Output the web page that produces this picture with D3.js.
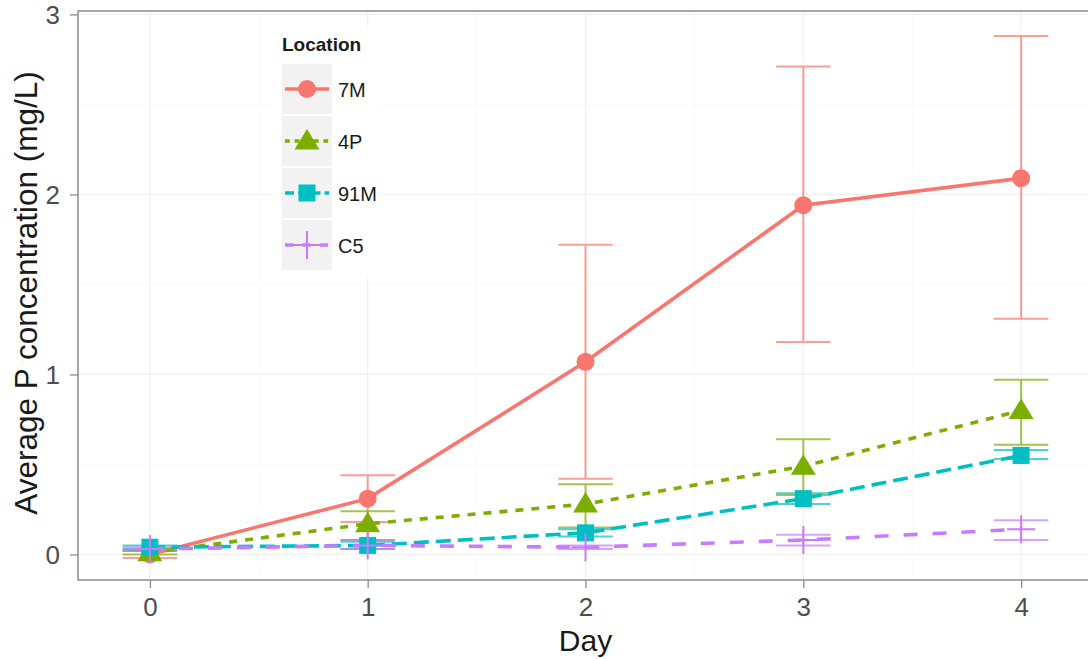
<!DOCTYPE html>
<html><head><meta charset="utf-8">
<script src="https://cdn.jsdelivr.net/npm/d3@7"></script>
<style>html,body{margin:0;padding:0;background:#fff;overflow:hidden}svg{display:block;font-family:"Liberation Sans",Arial,sans-serif}</style>
</head><body><svg id="c" width="1088" height="659"></svg>
<script>
const days = [0, 1, 2, 3, 4];
const locations = ["7M", "4P", "91M", "C5"];
const mean7M  = [0.00, 0.31, 1.07, 1.94, 2.09];
const lo7M    = [-0.02, 0.18, 0.42, 1.18, 1.31];
const hi7M    = [0.02, 0.44, 1.72, 2.71, 2.88];
const mean4P  = [0.01, 0.17, 0.28, 0.49, 0.80];
const lo4P    = [0.00, 0.08, 0.15, 0.33, 0.61];
const hi4P    = [0.02, 0.24, 0.39, 0.64, 0.97];
const mean91M = [0.04, 0.05, 0.12, 0.31, 0.55];
const lo91M   = [0.03, 0.03, 0.10, 0.28, 0.53];
const hi91M   = [0.05, 0.07, 0.14, 0.34, 0.58];
const meanC5  = [0.03, 0.05, 0.04, 0.08, 0.14];
const loC5    = [0.02, 0.03, 0.03, 0.05, 0.08];
const hiC5    = [0.04, 0.08, 0.05, 0.11, 0.19];
const yTicks = [0, 1, 2, 3];
const xTicks = [0, 1, 2, 3, 4];

const seriesMeans = [mean7M, mean4P, mean91M, meanC5];
const seriesLo = [lo7M, lo4P, lo91M, loC5];
const seriesHi = [hi7M, hi4P, hi91M, hiC5];
const colors = ["#F8766D", "#7CAE00", "#00BFC4", "#C77CFF"];
const dashes = [null, "8,8", "15,7", "14,15"];
const shapes = ["circle", "triangle", "square", "plus"];

const series = locations.map((loc, i) => ({
  loc, color: colors[i], dash: dashes[i], shape: shapes[i],
  pts: days.map((d, j) => ({day: d, m: seriesMeans[i][j], lo: seriesLo[i][j], hi: seriesHi[i][j]}))
}));

const svg = d3.select("#c");
const L = 78, R = 1093, T = 11, B = 580;
const x = d3.scaleLinear().domain([-0.33, 4.33]).range([L, R]);
const y = d3.scaleLinear().domain([-0.142, 3.019]).range([B, T]);

svg.append("defs").append("clipPath").attr("id", "clip")
  .append("rect").attr("x", L).attr("y", T).attr("width", R - L).attr("height", B - T);

// grid
const g = svg.append("g");
const minorY = d3.range(-0.5, 3.5, 1).filter(v => v > -0.142 && v < 3.019);
const minorX = d3.range(-0.5, 5, 1).filter(v => v > -0.33 && v < 4.33);
g.selectAll(".my").data(minorY).join("line").attr("x1", L).attr("x2", R)
  .attr("y1", d => y(d)).attr("y2", d => y(d)).attr("stroke", "#FAFAFA").attr("stroke-width", 1);
g.selectAll(".mx").data(minorX).join("line").attr("y1", T).attr("y2", B)
  .attr("x1", d => x(d)).attr("x2", d => x(d)).attr("stroke", "#FAFAFA").attr("stroke-width", 1);
g.selectAll(".gy").data(yTicks).join("line").attr("x1", L).attr("x2", R)
  .attr("y1", d => y(d)).attr("y2", d => y(d)).attr("stroke", "#F0F0F0").attr("stroke-width", 1.2);
g.selectAll(".gx").data(xTicks).join("line").attr("y1", T).attr("y2", B)
  .attr("x1", d => x(d)).attr("x2", d => x(d)).attr("stroke", "#F0F0F0").attr("stroke-width", 1.2);

// axes
const xAxis = svg.append("g").attr("transform", `translate(0,${B})`)
  .call(d3.axisBottom(x).tickValues(xTicks).tickSize(8).tickPadding(10).tickFormat(d3.format("d")));
const yAxis = svg.append("g").attr("transform", `translate(${L},0)`)
  .call(d3.axisLeft(y).tickValues(yTicks).tickSize(8).tickPadding(10).tickFormat(d3.format("d")));
[xAxis, yAxis].forEach(a => {
  a.select(".domain").remove();
  a.selectAll(".tick line").attr("stroke", "#8C8C8C").attr("stroke-width", 1.3);
  a.selectAll(".tick text").attr("fill", "#4D4D4D").attr("font-size", 26)
    .attr("font-family", "Liberation Sans, Arial, sans-serif");
});
yAxis.selectAll(".tick text").attr("dy", "0.36em");
// panel border
svg.append("rect").attr("x", L).attr("y", T).attr("width", R - L).attr("height", B - T)
  .attr("fill", "none").attr("stroke", "#8C8C8C").attr("stroke-width", 1.5);

// data layers
const plot = svg.append("g").attr("clip-path", "url(#clip)");
const hw = 0.125;
series.forEach(s => {
  const eb = plot.append("g").attr("stroke", s.color).attr("stroke-width", 2).attr("opacity", 0.7);
  eb.selectAll(".v").data(s.pts).join("line")
    .attr("x1", d => x(d.day)).attr("x2", d => x(d.day)).attr("y1", d => y(d.lo)).attr("y2", d => y(d.hi));
  eb.selectAll(".h1").data(s.pts).join("line")
    .attr("x1", d => x(d.day - hw)).attr("x2", d => x(d.day + hw)).attr("y1", d => y(d.hi)).attr("y2", d => y(d.hi));
  eb.selectAll(".h2").data(s.pts).join("line")
    .attr("x1", d => x(d.day - hw)).attr("x2", d => x(d.day + hw)).attr("y1", d => y(d.lo)).attr("y2", d => y(d.lo));
});
const line = d3.line().x(d => x(d.day)).y(d => y(d.m));
series.forEach(s => {
  plot.append("path").datum(s.pts).attr("d", line).attr("fill", "none")
    .attr("stroke", s.color).attr("stroke-width", 3.6)
    .attr("stroke-dasharray", s.dash);
});
function drawShape(sel, shape, color, cx, cy) {
  if (shape === "circle") {
    sel.append("circle").attr("cx", cx).attr("cy", cy).attr("r", 9).attr("fill", color);
  } else if (shape === "triangle") {
    sel.append("path").attr("d", `M${cx},${cy - 12}L${cx + 12.5},${cy + 8.5}L${cx - 12.5},${cy + 8.5}Z`).attr("fill", color);
  } else if (shape === "square") {
    sel.append("rect").attr("x", cx - 8.5).attr("y", cy - 8.5).attr("width", 17).attr("height", 17).attr("fill", color);
  } else {
    sel.append("path").attr("d", `M${cx - 14},${cy}H${cx + 14}M${cx},${cy - 14}V${cy + 14}`)
      .attr("stroke", color).attr("stroke-width", 2).attr("fill", "none");
  }
}
series.forEach(s => {
  const pg = plot.append("g");
  s.pts.forEach(d => drawShape(pg, s.shape, s.color, x(d.day), y(d.m)));
});

// axis titles
svg.append("text").attr("x", x(2)).attr("y", 651).attr("text-anchor", "middle")
  .attr("font-size", 30).attr("fill", "#1a1a1a").text("Day");
svg.append("text").attr("transform", `translate(37,293) rotate(-90)`)
  .attr("text-anchor", "middle").attr("font-size", 31.5).attr("fill", "#1a1a1a")
  .text("Average P concentration (mg/L)");

// legend
const lg = svg.append("g");
lg.append("rect").attr("x", 272).attr("y", 26).attr("width", 110).attr("height", 252).attr("fill", "#fff");
lg.append("text").attr("x", 282).attr("y", 51).attr("font-size", 19).attr("font-weight", "bold")
  .attr("fill", "#1a1a1a").text("Location");
series.forEach((s, i) => {
  const top = 64 + i * 52;
  const cy = top + 25;
  lg.append("rect").attr("x", 282).attr("y", top).attr("width", 50).attr("height", 50).attr("fill", "#F2F2F2");
  lg.append("line").attr("x1", 285).attr("x2", 329).attr("y1", cy).attr("y2", cy)
    .attr("stroke", s.color).attr("stroke-width", 3.6).attr("stroke-dasharray", s.dash ? s.dash.split(",").map(v => +v * 0.6).join(",") : null);
  drawShape(lg, s.shape, s.color, 307, cy);
  lg.append("text").attr("x", 338).attr("y", cy + 8).attr("font-size", 20).attr("fill", "#1a1a1a").text(s.loc);
});
</script></body></html>
